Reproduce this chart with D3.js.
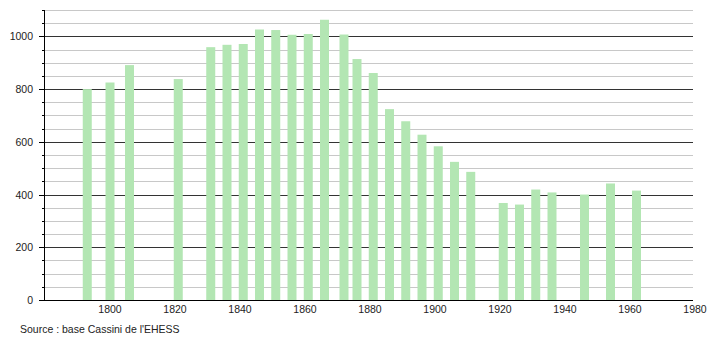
<!DOCTYPE html>
<html>
<head>
<meta charset="utf-8">
<script src="https://cdn.jsdelivr.net/npm/d3@7"></script>
<style>
  body { margin: 0; background: #fff; }
  text { font-family: "Liberation Sans", Arial, sans-serif; font-size: 10.5px; fill: #222; }
</style>
</head>
<body>
<div id="chart"></div>
<script>
// Data
var years = [1793, 1800, 1806, 1821, 1831, 1836, 1841, 1846, 1851, 1856, 1861, 1866, 1872, 1876,
  1881, 1886, 1891, 1896, 1901, 1906, 1911, 1921, 1926, 1931, 1936, 1946, 1954, 1962]
var population = [800, 825, 891, 838, 959, 968, 971, 1026, 1024, 1006, 1009, 1063, 1007, 914,
  861, 724, 678, 627, 583, 524, 486, 368, 362, 419, 408, 400, 442, 415]
var yTicks = [0, 200, 400, 600, 800, 1000]
var xTicks = [1800, 1820, 1840, 1860, 1880, 1900, 1920, 1940, 1960, 1980]

var width = 710
var height = 340
var margin = { top: 10, right: 15, bottom: 40, left: 45 }

var svg = d3.select('#chart').append('svg')
  .attr('width', width)
  .attr('height', height)

// Scales
var x = d3.scaleLinear().domain([1780, 1980]).range([margin.left, width - margin.right])
var y = d3.scaleLinear().domain([0, 1100]).range([height - margin.bottom, margin.top])

// Grid lines
var minor = d3.range(50, 1101, 50).filter(function (d) { return d % 200 !== 0 })
svg.append('g').selectAll('line.minor')
  .data(minor).enter().append('line')
  .attr('x1', margin.left).attr('x2', x(1980) - 2)
  .attr('y1', function (d) { return Math.round(y(d)) + 0.5 })
  .attr('y2', function (d) { return Math.round(y(d)) + 0.5 })
  .attr('stroke', '#c8c8c8')

svg.append('g').selectAll('line.major')
  .data(yTicks.filter(function (d) { return d > 0 })).enter().append('line')
  .attr('x1', margin.left).attr('x2', x(1980) - 2)
  .attr('y1', function (d) { return Math.round(y(d)) + 0.5 })
  .attr('y2', function (d) { return Math.round(y(d)) + 0.5 })
  .attr('stroke', '#333')

// Bars
var barW = 9
svg.append('g').selectAll('rect')
  .data(years).enter().append('rect')
  .attr('x', function (d) { return x(d) - barW / 2 })
  .attr('y', function (d, i) { return y(population[i]) })
  .attr('width', barW)
  .attr('height', function (d, i) { return y(0) - y(population[i]) })
  .attr('fill', '#b3e6b3')

// Y axis with minor ticks
var yAxis = svg.append('g')
yAxis.append('line')
  .attr('x1', margin.left - 0.5).attr('x2', margin.left - 0.5)
  .attr('y1', y(1100)).attr('y2', y(0))
  .attr('stroke', '#000')
yAxis.selectAll('line.tick')
  .data(d3.range(0, 1101, 50)).enter().append('line')
  .attr('x1', function (d) { return d % 200 === 0 ? margin.left - 6 : margin.left - 3 })
  .attr('x2', margin.left)
  .attr('y1', function (d) { return Math.round(y(d)) + 0.5 })
  .attr('y2', function (d) { return Math.round(y(d)) + 0.5 })
  .attr('stroke', '#000')
yAxis.selectAll('text')
  .data(yTicks).enter().append('text')
  .attr('x', margin.left - 12)
  .attr('y', function (d) { return y(d) + 4 })
  .attr('text-anchor', 'end')
  .text(function (d) { return d })

// X axis
svg.append('line')
  .attr('x1', margin.left - 5).attr('x2', x(1980) - 2)
  .attr('y1', Math.round(y(0)) + 0.5).attr('y2', Math.round(y(0)) + 0.5)
  .attr('stroke', '#000')
svg.append('g').selectAll('text')
  .data(xTicks).enter().append('text')
  .attr('x', function (d) { return x(d) })
  .attr('y', y(0) + 13)
  .attr('text-anchor', 'middle')
  .text(function (d) { return d })

// Source
svg.append('text')
  .attr('x', 20)
  .attr('y', 333)
  .text("Source : base Cassini de l'EHESS")
</script>
</body>
</html>
